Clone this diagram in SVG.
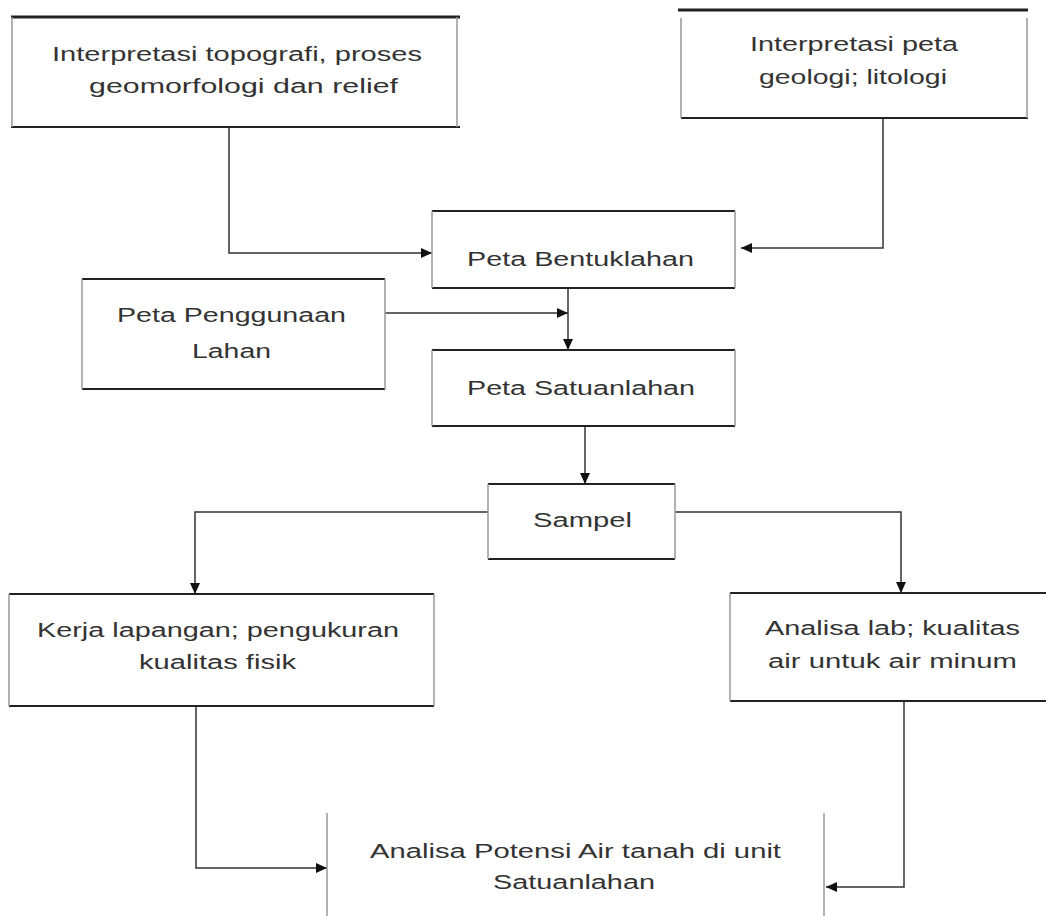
<svg xmlns="http://www.w3.org/2000/svg" width="1046" height="916" viewBox="0 0 1046 916">
<style>
.h{stroke:#222;stroke-width:2;fill:none}
.v{stroke:#999;stroke-width:1.5;fill:none}
.t{font-family:"Liberation Sans",Arial,sans-serif;font-size:20px;fill:#333;text-anchor:middle}
.c{stroke:#333;stroke-width:1.5;fill:none;marker-end:url(#ah)}
</style>
<defs>
<marker id="ah" markerUnits="userSpaceOnUse" markerWidth="12" markerHeight="12" refX="11" refY="6" orient="auto">
<path d="M0,1 L11,6 L0,11 Z" fill="#111"/>
</marker>
</defs>
<rect width="1046" height="916" fill="#fff"/>
<g id="connectors">
<path class="c" d="M229 127 V253 H432"/>
<path class="c" d="M883 118 V248 H741"/>
<path class="c" d="M385 313 H568"/>
<path class="c" d="M568 288 V350"/>
<path class="c" d="M585 426 V484"/>
<path class="c" d="M488 512 H195 V594"/>
<path class="c" d="M675 512 H901 V593"/>
<path class="c" d="M196 706 V868 H327"/>
<path class="c" d="M904 701 V887 H826"/>
</g>
<g id="n1">
<path class="h" style="stroke-width:3" d="M11 17 H460"/>
<path class="h" d="M11 127 H460"/>
<path class="v" d="M12 17 V127 M457 17 V127"/>
<text class="t" x="237" y="61" textLength="370" lengthAdjust="spacingAndGlyphs">Interpretasi topografi, proses</text>
<text class="t" x="243.5" y="93" textLength="309" lengthAdjust="spacingAndGlyphs">geomorfologi dan relief</text>
</g>
<g id="n2">
<path class="h" style="stroke-width:3" d="M678 10 H1028"/>
<path class="h" d="M681 118 H1028"/>
<path class="v" d="M681 18 V118 M1027 18 V118"/>
<text class="t" x="854" y="51" textLength="208" lengthAdjust="spacingAndGlyphs">Interpretasi peta</text>
<text class="t" x="853" y="84" textLength="188" lengthAdjust="spacingAndGlyphs">geologi; litologi</text>
</g>
<g id="n3">
<path class="h" d="M432 211 H735 M432 288 H735"/>
<path class="v" d="M432 211 V288 M735 211 V288"/>
<text class="t" x="580.5" y="266" textLength="227" lengthAdjust="spacingAndGlyphs">Peta Bentuklahan</text>
</g>
<g id="n4">
<path class="h" d="M82 279 H385 M82 389 H385"/>
<path class="v" d="M82 279 V389 M385 279 V389"/>
<text class="t" x="231.5" y="322" textLength="229" lengthAdjust="spacingAndGlyphs">Peta Penggunaan</text>
<text class="t" x="231.5" y="358" textLength="79" lengthAdjust="spacingAndGlyphs">Lahan</text>
</g>
<g id="n5">
<path class="h" d="M432 350 H735 M432 426 H735"/>
<path class="v" d="M432 350 V426 M735 350 V426"/>
<text class="t" x="581" y="395" textLength="228" lengthAdjust="spacingAndGlyphs">Peta Satuanlahan</text>
</g>
<g id="n6">
<path class="h" d="M488 484 H675 M488 559 H675"/>
<path class="v" d="M488 484 V559 M675 484 V559"/>
<text class="t" x="582.5" y="527" textLength="99" lengthAdjust="spacingAndGlyphs">Sampel</text>
</g>
<g id="n7">
<path class="h" d="M9 594 H434 M9 706 H434"/>
<path class="v" d="M9 594 V706 M434 594 V706"/>
<text class="t" x="218" y="637" textLength="362" lengthAdjust="spacingAndGlyphs">Kerja lapangan; pengukuran</text>
<text class="t" x="217.5" y="669" textLength="157" lengthAdjust="spacingAndGlyphs">kualitas fisik</text>
</g>
<g id="n8">
<path class="h" d="M730 593 H1046 M730 701 H1046"/>
<path class="v" d="M730 593 V701"/>
<text class="t" x="892.5" y="635" textLength="255" lengthAdjust="spacingAndGlyphs">Analisa lab; kualitas</text>
<text class="t" x="892.5" y="668" textLength="249" lengthAdjust="spacingAndGlyphs">air untuk air minum</text>
</g>
<g id="n9">
<path class="v" d="M327 813 V916 M824 813 V916"/>
<text class="t" x="575.5" y="858" textLength="411" lengthAdjust="spacingAndGlyphs">Analisa Potensi Air tanah di unit</text>
<text class="t" x="574" y="889" textLength="162" lengthAdjust="spacingAndGlyphs">Satuanlahan</text>
</g>
</svg>
